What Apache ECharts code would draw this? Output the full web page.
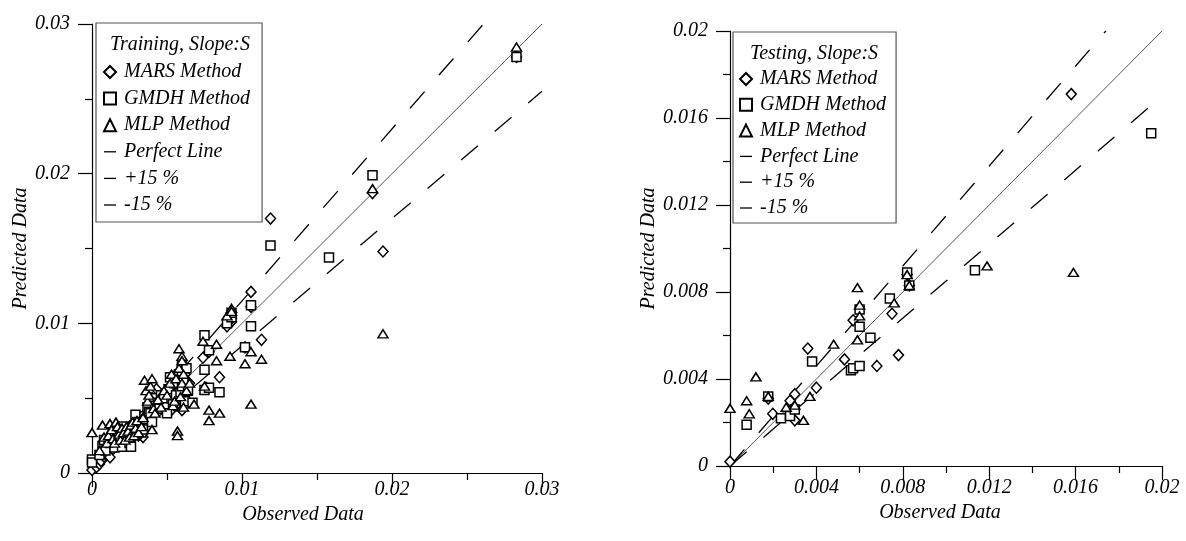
<!DOCTYPE html>
<html>
<head>
<meta charset="utf-8">
<script src="https://cdn.jsdelivr.net/npm/echarts@6/dist/echarts.min.js"></script>
<style>
html,body{margin:0;padding:0;background:#fff;}
#chart{width:1186px;height:541px;}
</style>
</head>
<body>
<div id="chart"></div>
<script>
// ---------- data ----------
const seriesNames = ['MARS Method', 'GMDH Method', 'MLP Method', 'Perfect Line', '+15 %', '-15 %'];
const panelTitles = ['Training, Slope:S', 'Testing, Slope:S'];
const axisNameX = 'Observed Data';
const axisNameY = 'Predicted Data';

const trainMARS = [
  [0,0.0002],[0.0003,0.0004],[0.0005,0.0006],[0.0006,0.0008],[0.0008,0.0011],[0.0009,0.0013],[0.0010,0.0016],
  [0.0011,0.0017],[0.0012,0.00105],[0.0013,0.0019],[0.0014,0.0016],[0.0015,0.0022],[0.0016,0.0020],[0.0017,0.0025],
  [0.0018,0.0021],[0.0019,0.0027],[0.0020,0.0023],[0.0021,0.0029],[0.0022,0.0025],[0.0023,0.0026],[0.0024,0.0028],
  [0.0025,0.0031],[0.0026,0.0022],[0.0027,0.0031],[0.0028,0.0027],[0.0029,0.0033],[0.0030,0.0030],[0.0031,0.0025],
  [0.0032,0.0028],[0.0033,0.0036],[0.0034,0.0024],[0.0035,0.0033],[0.0036,0.0038],[0.0037,0.0041],[0.0038,0.0043],
  [0.0039,0.0045],[0.0040,0.0050],[0.0041,0.0046],[0.0042,0.0047],[0.0043,0.0056],[0.0045,0.0049],[0.0047,0.0044],
  [0.0048,0.0052],[0.0050,0.0047],[0.0051,0.0055],[0.0052,0.0041],[0.0053,0.0058],[0.0054,0.0050],[0.0055,0.0061],
  [0.0056,0.0045],[0.0057,0.0050],[0.0058,0.0055],[0.0059,0.0062],[0.0059,0.0057],[0.0060,0.0068],[0.0060,0.0064],
  [0.0060,0.0042],[0.0061,0.0049],[0.0062,0.0066],[0.0063,0.0053],[0.0064,0.0058],[0.0065,0.0060],[0.0074,0.0077],
  [0.0076,0.0057],[0.0078,0.0081],[0.0085,0.0064],[0.0090,0.0098],[0.0093,0.0101],[0.0093,0.0103],[0.0102,0.0084],
  [0.0106,0.0121],[0.0106,0.0111],[0.0113,0.0089],[0.0119,0.0170],[0.0187,0.0187],[0.0194,0.0148],[0.0283,0.0278]
];
const trainGMDH = [
  [0,0.0009],[0,0.0007],[0.0005,0.0012],[0.0007,0.0018],[0.0008,0.0022],[0.0009,0.0015],[0.0011,0.0021],
  [0.0012,0.0020],[0.0013,0.0024],[0.0014,0.0027],[0.0015,0.0017],[0.0016,0.0022],[0.0017,0.0028],[0.0018,0.0024],
  [0.0019,0.0030],[0.0020,0.00176],[0.0021,0.0031],[0.0022,0.0027],[0.0023,0.0025],[0.0024,0.0023],[0.0025,0.0020],
  [0.0026,0.00176],[0.0027,0.0030],[0.0028,0.0029],[0.0029,0.0039],[0.0030,0.0026],[0.0031,0.0034],[0.0032,0.0032],
  [0.0033,0.0027],[0.0034,0.0029],[0.0035,0.0038],[0.0036,0.0036],[0.0037,0.0044],[0.0038,0.0041],[0.0039,0.0040],
  [0.0040,0.0034],[0.0041,0.0050],[0.0042,0.0045],[0.0044,0.0047],[0.0045,0.0043],[0.0046,0.0052],[0.0048,0.0050],
  [0.0049,0.0044],[0.0050,0.0040],[0.0051,0.0056],[0.0052,0.0064],[0.0053,0.0050],[0.0054,0.0046],[0.0055,0.0060],
  [0.0056,0.0052],[0.0057,0.0065],[0.0058,0.0066],[0.0059,0.0054],[0.0060,0.0072],[0.0060,0.0068],[0.0060,0.0058],
  [0.0061,0.0062],[0.0062,0.0048],[0.0063,0.0070],[0.0064,0.0055],[0.0067,0.0047],[0.0075,0.0092],[0.0075,0.0069],
  [0.0075,0.00555],[0.0078,0.0082],[0.0078,0.0057],[0.0085,0.0054],[0.0090,0.0100],[0.0093,0.0104],[0.0093,0.0107],
  [0.0102,0.0084],[0.0106,0.0112],[0.0106,0.0098],[0.0119,0.0152],[0.0158,0.0144],[0.0187,0.0199],[0.0283,0.0278]
];
const trainMLP = [
  [0,0.0027],[0.0005,0.0015],[0.0007,0.0032],[0.0008,0.0024],[0.0010,0.0020],[0.0011,0.0025],[0.0012,0.0033],
  [0.0013,0.0029],[0.0014,0.0023],[0.0015,0.0020],[0.0016,0.0034],[0.0017,0.0031],[0.0018,0.0026],[0.0019,0.0022],
  [0.0020,0.0030],[0.0021,0.0027],[0.0022,0.0022],[0.0023,0.0031],[0.0024,0.0028],[0.0025,0.0024],[0.0026,0.0032],
  [0.0027,0.0034],[0.0028,0.0025],[0.0029,0.0030],[0.0030,0.0035],[0.0031,0.0027],[0.0033,0.0031],[0.0034,0.0037],
  [0.0035,0.0062],[0.0036,0.0055],[0.0037,0.0048],[0.0038,0.0052],[0.0039,0.0058],[0.0040,0.0063],[0.0040,0.0029],
  [0.0041,0.0043],[0.0042,0.0040],[0.0044,0.0049],[0.0046,0.0044],[0.0048,0.0055],[0.0050,0.0052],[0.0052,0.0060],
  [0.0053,0.0066],[0.0054,0.0045],[0.0055,0.0048],[0.0056,0.0063],[0.0057,0.0028],[0.0057,0.0025],[0.0058,0.0083],
  [0.0058,0.0070],[0.0059,0.0051],[0.0060,0.0078],[0.0060,0.0075],[0.0060,0.0060],[0.0061,0.0066],[0.0061,0.0044],
  [0.0063,0.0055],[0.0065,0.0060],[0.0068,0.0046],[0.0074,0.0088],[0.0075,0.0058],[0.0078,0.0042],[0.0078,0.0035],
  [0.0083,0.0086],[0.0083,0.0075],[0.0085,0.0040],[0.0090,0.0105],[0.0092,0.0078],[0.0093,0.0110],[0.0093,0.0108],
  [0.0102,0.0073],[0.0106,0.0081],[0.0106,0.0046],[0.0113,0.0076],[0.0187,0.0190],[0.0194,0.0093],[0.0283,0.02846]
];
const trainPerfect = [[0,0],[0.03,0.03]];
const trainPlus15 = [[0,0],[0.0261,0.03]];
const trainMinus15 = [[0,0],[0.03,0.0255]];

const testMARS = [
  [0,0.0002],[0.00177,0.0031],[0.00198,0.0024],[0.00268,0.0026],[0.00278,0.0030],[0.0030,0.0033],[0.0030,0.0021],
  [0.0036,0.0054],[0.0040,0.0036],[0.0053,0.0049],[0.0057,0.0067],[0.0068,0.0046],[0.0075,0.0070],[0.0078,0.0051],
  [0.0082,0.0088],[0.0083,0.0083],[0.0158,0.0171]
];
const testGMDH = [
  [0.00077,0.0019],[0.00177,0.0032],[0.00236,0.0022],[0.00278,0.0023],[0.0030,0.0026],[0.0038,0.0048],
  [0.0056,0.0044],[0.0057,0.0045],[0.0060,0.0046],[0.0060,0.0064],[0.0060,0.0072],[0.0065,0.0059],[0.0074,0.0077],
  [0.0082,0.0089],[0.0083,0.0083],[0.01134,0.0090],[0.0195,0.0153]
];
const testMLP = [
  [0,0.00265],[0.00077,0.0030],[0.00089,0.0024],[0.0012,0.0041],[0.00177,0.0032],[0.0026,0.0027],[0.0030,0.0028],
  [0.0034,0.0021],[0.0037,0.0032],[0.0048,0.0056],[0.0059,0.0058],[0.0059,0.0082],[0.0060,0.0069],[0.0060,0.0074],
  [0.0076,0.0075],[0.0082,0.0088],[0.0083,0.0083],[0.0119,0.0092],[0.0159,0.0089]
];
const testPerfect = [[0,0],[0.02,0.02]];
const testPlus15 = [[0,0],[0.0174,0.02]];
const testMinus15 = [[0,0],[0.02,0.017]];

// ---------- styling ----------
const FONT = 'Liberation Serif';
const txt = {fontFamily: FONT, fontStyle: 'italic', fontSize: 20, color: '#000'};

function valueAxis(gridIndex, max, interval, isX, labelMargin, nameGap, namePad) {
  return {
    type: 'value', gridIndex, min: 0, max, interval,
    name: isX ? axisNameX : axisNameY,
    nameLocation: 'middle', nameGap,
    nameTextStyle: Object.assign({}, txt, {padding: namePad}),
    axisLine: {show: true, onZero: false, lineStyle: {color: '#000', width: 1.2}},
    axisTick: {show: true, length: 14, lineStyle: {color: '#000', width: 1.2}},
    minorTick: {show: true, splitNumber: 2, length: 7, lineStyle: {color: '#000', width: 1.2}},
    splitLine: {show: false},
    axisLabel: Object.assign({}, txt, {margin: labelMargin, showMinLabel: true, showMaxLabel: true})
  };
}

function scatter(name, data, symbol, size, xi) {
  return {
    name, type: 'scatter', data, xAxisIndex: xi, yAxisIndex: xi,
    symbol, symbolSize: size, clip: false, z: 5,
    itemStyle: {color: '#fff', borderColor: '#000', borderWidth: 1.5, opacity: 1},
    emphasis: {disabled: true}
  };
}
function refLine(name, data, xi, dashed, color) {
  return {
    name, type: 'line', data, xAxisIndex: xi, yAxisIndex: xi,
    symbol: 'none', showSymbol: false, z: 2, silent: true,
    lineStyle: {color, width: dashed ? 1.3 : 1, type: dashed ? [22, 22] : 'solid'},
    itemStyle: {color: '#000'}
  };
}

const dashIcon = 'path://M0,0H12V1.3H0Z';
const legendData = seriesNames.map((n, i) => i < 3 ? {name: n} :
  {name: n, icon: dashIcon, itemStyle: {color: '#000', borderWidth: 0}});

function legend(left, top, padding, gap) {
  return {
    orient: 'vertical', left, top, padding, itemGap: gap,
    itemWidth: 12, itemHeight: 12, symbolKeepAspect: true,
    borderColor: '#555', borderWidth: 1.2, backgroundColor: '#fff',
    selectedMode: false,
    data: legendData,
    textStyle: Object.assign({}, txt, {lineHeight: 20, padding: [0, 0, 0, 3]})
  };
}

const chart = echarts.init(document.getElementById('chart'), null, {renderer: 'canvas'});
chart.setOption({
  animation: false,
  backgroundColor: '#fff',
  title: [
    {text: panelTitles[0], left: 180, top: 34, textAlign: 'center', padding: 0, z: 20,
     textStyle: Object.assign({}, txt, {fontWeight: 'normal', lineHeight: 22})},
    {text: panelTitles[1], left: 814, top: 43, textAlign: 'center', padding: 0, z: 20,
     textStyle: Object.assign({}, txt, {fontWeight: 'normal', lineHeight: 22})}
  ],
  grid: [
    {left: 92, top: 24, width: 450, height: 449},
    {left: 730, top: 31, width: 432, height: 435}
  ],
  xAxis: [
    valueAxis(0, 0.03, 0.01, true, 7, 30, [0, 28, 0, 0]),
    valueAxis(1, 0.02, 0.004, true, 12, 37, [0, 12, 0, 0])
  ],
  yAxis: [
    valueAxis(0, 0.03, 0.01, false, 22, 60, 0),
    valueAxis(1, 0.02, 0.004, false, 22, 52, 0)
  ],
  legend: [
    legend(96, 23, [39, 12, 7, 7], 6.6),
    legend(733, 32, [37, 10, 5, 6], 5.8)
  ],
  series: [
    refLine(seriesNames[3], trainPerfect, 0, false, '#555'),
    refLine(seriesNames[4], trainPlus15, 0, true, '#000'),
    refLine(seriesNames[5], trainMinus15, 0, true, '#000'),
    scatter(seriesNames[0], trainMARS, 'diamond', [10, 11], 0),
    scatter(seriesNames[1], trainGMDH, 'rect', 9, 0),
    scatter(seriesNames[2], trainMLP, 'triangle', [10, 8], 0),
    refLine(seriesNames[3], testPerfect, 1, false, '#555'),
    refLine(seriesNames[4], testPlus15, 1, true, '#000'),
    refLine(seriesNames[5], testMinus15, 1, true, '#000'),
    scatter(seriesNames[0], testMARS, 'diamond', [10, 11], 1),
    scatter(seriesNames[1], testGMDH, 'rect', 9, 1),
    scatter(seriesNames[2], testMLP, 'triangle', [10, 8], 1)
  ]
});
</script>
</body>
</html>
